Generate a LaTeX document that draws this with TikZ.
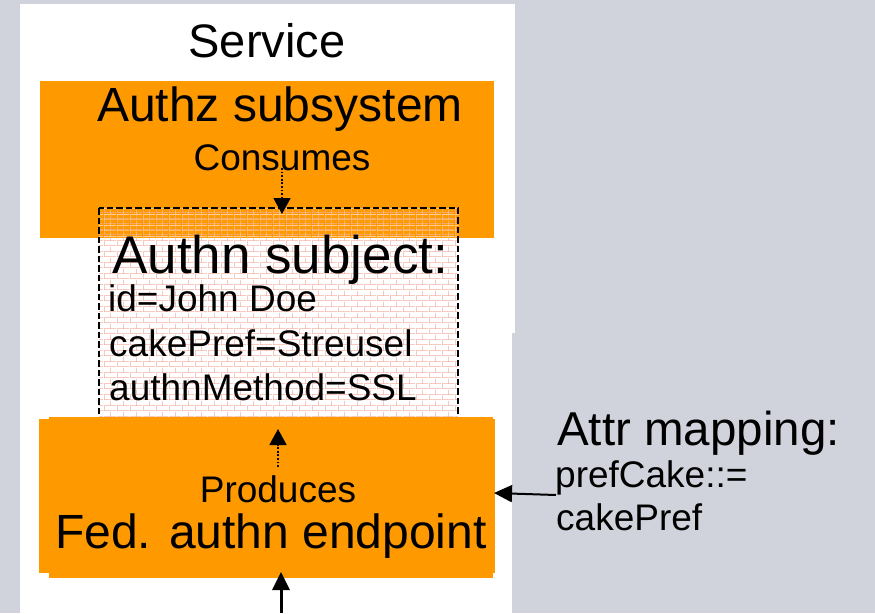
\documentclass[tikz,border=0pt]{standalone}
\usepackage{fontspec}
\setmainfont{Liberation Sans}
\usetikzlibrary{arrows.meta,patterns.meta}

\definecolor{bggray}{RGB}{208,211,220}
\definecolor{boxorange}{RGB}{255,153,0}
\definecolor{brickred}{RGB}{242,175,160}
\definecolor{bricklight}{RGB}{255,205,150}

% small brick wall used to fill the subject box
\tikzdeclarepattern{
  name=fine bricks,
  type=uncolored,
  bounding box={(0pt,0pt) and (13pt,10.6pt)},
  tile size={(13pt,10.6pt)},
  code={
    \draw[line width=0.6pt]
      (0pt,0.3pt) -- (13pt,0.3pt)
      (0pt,5.6pt) -- (13pt,5.6pt)
      (0.3pt,0.3pt) -- (0.3pt,5.6pt)
      (6.8pt,5.6pt) -- (6.8pt,10.6pt);
  }
}

\tikzset{
  panel/.style={fill=white, draw=none},
  orangebox/.style={fill=boxorange, draw=none, inner sep=0pt, anchor=north west},
  lbl/.style={inner sep=0pt, text=black},
  dotarrow/.style={line width=1.8pt, dash pattern=on 1.8pt off 1.8pt,
    -{Triangle[length=16pt 0 0,width=17pt 0 0]}},
  solidarrow/.style={-{Triangle[length=18pt 0 0,width=17pt 0 0]}},
}

\begin{document}
\begin{tikzpicture}[x=1pt,y=-1pt]
  \useasboundingbox (0,0) rectangle (875,613);
  \fill[bggray] (0,0) rectangle (875,613);

  % white service panel
  \fill[panel] (20,4) rectangle (515,333);
  \fill[panel] (20,333) rectangle (512,613);

  % authorization subsystem
  \node[orangebox, minimum width=454pt, minimum height=157pt] (authz) at (40,81) {};

  % subject box: brick fill, lighter where it lies on the orange box
  \node[inner sep=0pt, anchor=north west, minimum width=359pt, minimum height=222pt,
        pattern=fine bricks, pattern color=brickred] (subject) at (99,208) {};
  \begin{scope}
    \clip (authz.north west) rectangle (authz.south east);
    \fill[pattern=fine bricks, pattern color=bricklight]
      (subject.north west) rectangle (subject.south east);
  \end{scope}
  \draw[line width=2pt, dash pattern=on 6.5pt off 3pt]
    (subject.north west) rectangle (subject.south east);

  % federated authentication endpoint
  \node[orangebox, minimum width=456pt, minimum height=154pt] (fed) at (39,419) {};
  \node[orangebox, minimum width=444pt, minimum height=161pt] (fedlower) at (49,417) {};

  % labels
  \node[lbl, anchor=base] (service) at (267,57) {\fontsize{47}{56}\selectfont Service};
  \node[lbl, anchor=base] (authztitle) at (280,121) {\fontsize{48}{58}\selectfont Authz subsystem};
  \node[lbl, anchor=base] (consumes) at (282,170) {\fontsize{37}{44}\selectfont Consumes};

  \node[lbl, anchor=base west] (subjtitle) at (112,273) {\fontsize{53}{64}\selectfont Authn subject:};
  \node[lbl, anchor=base west] (attrid) at (108,311) {\fontsize{37}{44}\selectfont id=John Doe};
  \node[lbl, anchor=base west] (attrcake) at (109,356) {\fontsize{37}{44}\selectfont cakePref=Streusel};
  \node[lbl, anchor=base west] (attrmethod) at (109,400) {\fontsize{37}{44}\selectfont authnMethod=SSL};

  \node[lbl, anchor=base] (produces) at (278,502) {\fontsize{37}{44}\selectfont Produces};
  \node[lbl, anchor=base] (fedtitle) at (271,548) {\fontsize{48}{58}\selectfont Fed. authn endpoint};

  \node[lbl, anchor=base west] (maptitle) at (557,445) {\fontsize{47.5}{57}\selectfont Attr mapping:};
  \node[lbl, anchor=base west] (maprule) at (555,487) {\fontsize{37}{44}\selectfont prefCake::=};
  \node[lbl, anchor=base west] (mapsource) at (556,530) {\fontsize{37}{44}\selectfont cakePref};

  % connectors
  \coordinate (consumesTail) at (282,168);
  \coordinate (consumesHead) at (282,214);
  \draw[dotarrow] (consumesTail) -- (consumesHead);

  \coordinate (producesTail) at (278,467);
  \coordinate (producesHead) at (278,429);
  \draw[dotarrow] (producesTail) -- (producesHead);

  \coordinate (inputTail) at (281,613);
  \coordinate (inputHead) at (281,572);
  \draw[solidarrow, line width=3pt] (inputTail) -- (inputHead);

  \coordinate (mapTail) at (556,495);
  \coordinate (mapHead) at (494,493);
  \draw[solidarrow, line width=2pt] (mapTail) -- (mapHead);
\end{tikzpicture}
\end{document}
